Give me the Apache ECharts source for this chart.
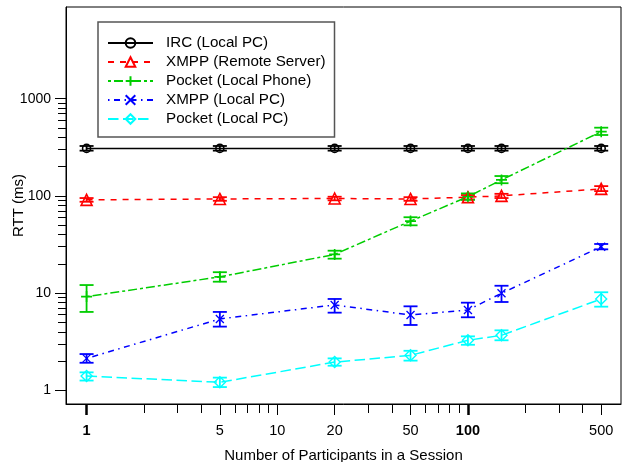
<!DOCTYPE html>
<html>
<head>
<meta charset="utf-8">
<script src="https://cdn.jsdelivr.net/npm/echarts@6/dist/echarts.min.js"></script>
<style>
  html, body { margin: 0; padding: 0; background: #fff; }
  #chart { width: 623px; height: 462px; }
</style>
</head>
<body>
<div id="chart"></div>
<script>
// data (ms, log-log plot)
const participants = [1, 5, 20, 50, 100, 150, 500];

const ircLocal = [308, 308, 308, 308, 308, 308, 308];
const ircLocalLo = [292, 292, 292, 292, 292, 292, 292];
const ircLocalHi = [326, 326, 326, 326, 326, 326, 326];

const xmppRemote = [91, 93, 94, 93, 97, 100, 118];
const xmppRemoteLo = [87, 89, 90, 89, 92, 95, 112];
const xmppRemoteHi = [95, 97, 98, 97, 102, 105, 126];

const pocketPhone = [9.2, 14.7, 25, 55, 98, 146, 458];
const pocketPhoneLo = [6.4, 13.1, 22.6, 49.8, 91, 135, 423];
const pocketPhoneHi = [12.1, 16.4, 27.3, 60.3, 106, 160, 503];

const xmppLocal = [2.13, 5.42, 7.55, 5.95, 6.7, 9.96, 30];
const xmppLocalLo = [1.92, 4.52, 6.29, 4.7, 5.64, 8.1, 28.2];
const xmppLocalHi = [2.36, 6.4, 8.7, 7.31, 7.97, 11.9, 32];

const pocketLocal = [1.40, 1.21, 1.95, 2.29, 3.27, 3.68, 8.7];
const pocketLocalLo = [1.26, 1.08, 1.79, 2.02, 2.94, 3.27, 7.25];
const pocketLocalHi = [1.53, 1.35, 2.13, 2.55, 3.59, 4.14, 10.2];

// tick marks / labels
const xTickValues = [1, 2, 3, 4, 5, 6, 7, 8, 9, 10, 20, 30, 40, 50, 60, 70, 80, 90, 100, 200, 300, 400, 500];
const xLabelValues = [1, 5, 10, 20, 50, 100, 500];
const xBoldValues = [1, 100];
const yTickValues = [1, 2, 3, 4, 5, 6, 7, 8, 9, 10, 20, 30, 40, 50, 60, 70, 80, 90,
                     100, 200, 300, 400, 500, 600, 700, 800, 900, 1000];
const yLabelValues = [1, 10, 100, 1000];

const lg = Math.log10;
const font = 'Liberation Sans';
const xMin = lg(0.78), xMax = lg(635);
const yMin = lg(0.723), yMax = lg(8770);

const chart = echarts.init(document.getElementById('chart'));

function lineSeries(name, vals, color, dash, symbol, size, bw) {
    return {
        name: name,
        type: 'line',
        data: participants.map((p, i) => [lg(p), lg(vals[i])]),
        symbol: symbol,
        symbolSize: size,
        itemStyle: { color: 'rgba(0,0,0,0)', borderColor: color, borderWidth: bw },
        lineStyle: { color: color, width: 1.5, type: dash },
        z: 4
    };
}

function errorSeries(lo, hi, color) {
    return {
        type: 'custom',
        silent: true,
        data: participants.map((p, i) => [lg(p), lg(lo[i]), lg(hi[i])]),
        encode: { x: 0, y: [1, 2] },
        renderItem: function (params, api) {
            let top = api.coord([api.value(0), api.value(2)]);
            let bot = api.coord([api.value(0), api.value(1)]);
            let w = 7;
            let style = { stroke: color, lineWidth: 1.8, fill: null };
            return {
                type: 'group',
                children: [
                    { type: 'line', shape: { x1: top[0], y1: top[1], x2: bot[0], y2: bot[1] }, style: style },
                    { type: 'line', shape: { x1: top[0] - w, y1: top[1], x2: top[0] + w, y2: top[1] }, style: style },
                    { type: 'line', shape: { x1: bot[0] - w, y1: bot[1], x2: bot[0] + w, y2: bot[1] }, style: style }
                ]
            };
        },
        z: 3
    };
}

const plusPath = 'path://M5,0V10M0,5H10';
const crossPath = 'path://M0,0L10,10M10,0L0,10';

const names = ['IRC (Local PC)', 'XMPP (Remote Server)', 'Pocket (Local Phone)', 'XMPP (Local PC)', 'Pocket (Local PC)'];

const xMinor = xTickValues.filter(v => xLabelValues.indexOf(v) < 0);
const xMajor = xLabelValues.filter(v => xBoldValues.indexOf(v) < 0);
const yMinor = yTickValues.filter(v => yLabelValues.indexOf(v) < 0);

function hiddenAxis(extra) {
    return Object.assign({
        type: 'value', gridIndex: 0,
        axisLine: { show: false, onZero: false }, axisLabel: { show: false },
        splitLine: { show: false }
    }, extra);
}

let option = {
    animation: false,
    backgroundColor: '#fff',
    textStyle: { fontFamily: font },
    grid: {
        left: 66, right: 2, top: 7, bottom: 58,
        outerBoundsMode: 'none',
        show: true, borderColor: '#000', borderWidth: 1
    },
    legend: {
        orient: 'vertical',
        left: 98, top: 22,
        data: names,
        itemWidth: 45, itemHeight: 12, itemGap: 4,
        padding: [13.5, 9, 10.5, 9],
        borderColor: '#555', borderWidth: 1.5,
        textStyle: { fontFamily: font, fontSize: 15.2, color: '#000', padding: [0, 0, 0, 8] }
    },
    xAxis: [
        {
            type: 'value', min: xMin, max: xMax, position: 'bottom',
            name: 'Number of Participants in a Session',
            nameLocation: 'middle', nameGap: 44, nameMoveOverlap: false,
            nameTextStyle: { fontFamily: font, fontSize: 15, color: '#000' },
            axisLine: { onZero: false, lineStyle: { color: '#000', width: 1 } },
            axisTick: { customValues: xMinor.map(lg), length: 9, lineStyle: { color: '#000', width: 1 } },
            axisLabel: {
                customValues: xLabelValues.map(lg),
                margin: 19, fontSize: 14.5, color: '#000', fontFamily: font,
                formatter: function (v) {
                    let p = Math.round(Math.pow(10, v));
                    return xBoldValues.indexOf(p) >= 0 ? '{b|' + p + '}' : String(p);
                },
                rich: { b: { fontWeight: 'bold', fontSize: 14.5, color: '#000', fontFamily: font } }
            },
            splitLine: { show: false }
        },
        hiddenAxis({ min: xMin, max: xMax, position: 'bottom',
            axisTick: { customValues: xMajor.map(lg), length: 11, lineStyle: { color: '#000', width: 1 } } }),
        hiddenAxis({ min: xMin, max: xMax, position: 'bottom',
            axisTick: { customValues: xBoldValues.map(lg), length: 11, lineStyle: { color: '#000', width: 2.5 } } })
    ],
    yAxis: [
        {
            type: 'value', min: yMin, max: yMax, position: 'left',
            name: 'RTT (ms)',
            nameLocation: 'middle', nameGap: 40, nameMoveOverlap: false,
            nameTextStyle: { fontFamily: font, fontSize: 15, color: '#000' },
            axisLine: { onZero: false, lineStyle: { color: '#000', width: 1 } },
            axisTick: { customValues: yMinor.map(lg), length: 8, lineStyle: { color: '#000', width: 1 } },
            axisLabel: {
                customValues: yLabelValues.map(lg),
                margin: 15, fontSize: 14, color: '#000', fontFamily: font,
                formatter: function (v) { return String(Math.round(Math.pow(10, v))); }
            },
            splitLine: { show: false }
        },
        hiddenAxis({ min: yMin, max: yMax, position: 'left',
            axisTick: { customValues: yLabelValues.map(lg), length: 11, lineStyle: { color: '#000', width: 1 } } })
    ],
    series: [
        errorSeries(ircLocalLo, ircLocalHi, '#000'),
        errorSeries(xmppRemoteLo, xmppRemoteHi, '#ff0000'),
        errorSeries(pocketPhoneLo, pocketPhoneHi, '#00cd00'),
        errorSeries(xmppLocalLo, xmppLocalHi, '#0000ff'),
        errorSeries(pocketLocalLo, pocketLocalHi, '#00ffff'),
        lineSeries(names[0], ircLocal, '#000', 'solid', 'circle', 8, 1.6),
        lineSeries(names[1], xmppRemote, '#ff0000', [6, 6], 'triangle', 11, 1.6),
        lineSeries(names[2], pocketPhone, '#00cd00', [3, 3, 9, 3], plusPath, 11, 1.6),
        lineSeries(names[3], xmppLocal, '#0000ff', [1.5, 4.5, 6, 4.5], crossPath, 8, 1.3),
        lineSeries(names[4], pocketLocal, '#00ffff', [10.5, 4.5], 'diamond', 11, 1.4)
    ]
};

chart.setOption(option);
</script>
</body>
</html>
